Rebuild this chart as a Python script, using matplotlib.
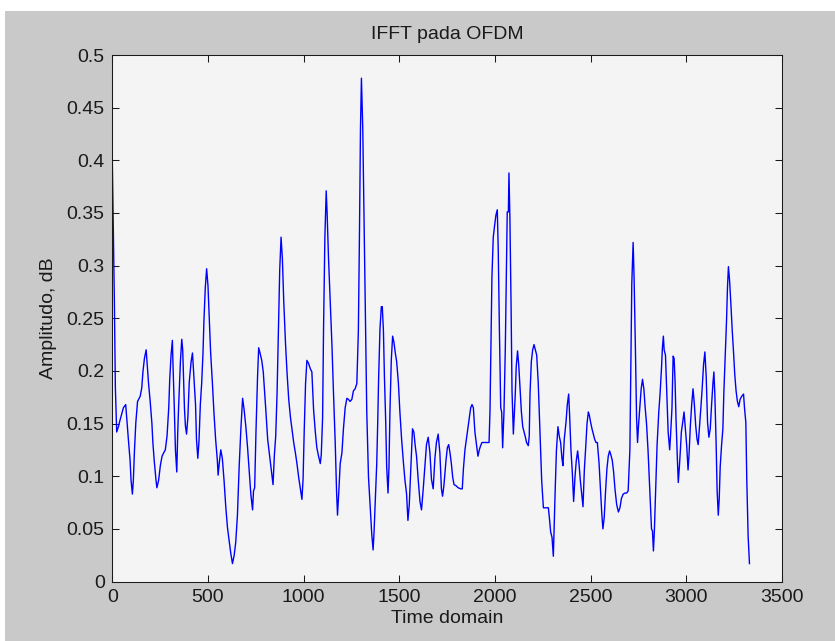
import matplotlib
matplotlib.use("Agg")
import matplotlib.pyplot as plt
from matplotlib.patches import Rectangle

time_points = [
    0, 3.5, 10.5, 16, 23, 32, 40, 58, 70, 75, 84, 93, 98, 105, 110, 116, 123, 132, 146, 154,
    160, 168, 177, 181, 189, 198, 207, 212, 219, 228, 233, 242, 251, 260, 268, 277, 286, 295, 300, 307,
    314, 317, 324, 330, 337, 342, 347, 356, 363, 368, 377, 382, 388, 395, 402, 412, 419, 426, 435, 440,
    447, 453, 460, 467, 474, 479, 486, 493, 500, 507, 514, 523, 531, 540, 549, 553, 560, 567, 575, 584,
    593, 602, 610, 619, 628, 637, 645, 654, 663, 672, 681, 689, 698, 707, 716, 724, 733, 738, 744, 751,
    759, 765, 772, 781, 789, 795, 803, 812,
    840, 847, 854, 861, 868, 875, 882, 889, 896, 905, 913, 922, 931, 939, 948, 957, 965, 974, 983, 991,
    997, 1003, 1010, 1017, 1026, 1035, 1043, 1052, 1061, 1069, 1078, 1087, 1092, 1099, 1104, 1111, 1118, 1123, 1130, 1139,
    1148, 1156, 1165, 1172, 1177, 1184, 1191, 1200, 1208, 1217, 1226, 1234, 1243, 1252, 1260, 1269, 1278, 1286, 1292, 1297,
    1302, 1309, 1316, 1323, 1330, 1339, 1347, 1356, 1363, 1368, 1375, 1382, 1387, 1392, 1399, 1406, 1411, 1417, 1422, 1429,
    1434, 1441, 1446, 1451, 1458, 1465, 1472, 1479, 1486, 1495, 1503, 1512, 1521, 1529, 1538, 1545, 1552, 1559, 1564, 1569,
    1576, 1583, 1590, 1599, 1608, 1616, 1625, 1634, 1642, 1651, 1660, 1668, 1677, 1686, 1694, 1703, 1712, 1720, 1726, 1733,
    1744, 1751, 1758, 1765, 1772, 1779, 1786, 1796, 1808, 1821, 1829, 1835, 1843, 1852, 1859, 1866, 1873, 1880, 1887, 1895,
    1904, 1911, 1918, 1925, 1932, 1939, 1956, 1969, 1974, 1979, 1984, 1991, 1998, 2005, 2012, 2017, 2023, 2030, 2035, 2040,
    2047, 2054, 2059, 2064, 2070, 2073, 2078, 2084, 2089, 2096, 2101, 2106, 2111, 2118, 2124, 2131, 2138, 2145, 2152, 2159,
    2165, 2174, 2179, 2183, 2190, 2197, 2204, 2211, 2218, 2226, 2235, 2244, 2253, 2261, 2270, 2279, 2284, 2291, 2298, 2305,
    2314, 2321, 2329, 2336, 2343, 2350, 2355, 2362, 2371, 2378, 2385, 2390, 2397, 2404, 2411, 2418, 2425, 2432, 2439, 2446,
    2453, 2460, 2467, 2474, 2481, 2488, 2493, 2500, 2507, 2514, 2521, 2528, 2535, 2544, 2551, 2558, 2564, 2571, 2578, 2585,
    2592, 2599, 2606, 2613, 2620, 2627, 2636, 2645,
    2653, 2661, 2670, 2679, 2688, 2696, 2705, 2710, 2715, 2722, 2727, 2734, 2740, 2745, 2750, 2757, 2764, 2771, 2778, 2785,
    2792, 2800, 2809, 2818, 2823, 2828, 2833, 2840, 2847, 2856, 2863, 2870, 2875, 2880, 2884, 2891, 2898, 2905, 2913, 2918,
    2925, 2931, 2936, 2941, 2946, 2953, 2958, 2964, 2969, 2974, 2981, 2988, 2995, 3002, 3009, 3014, 3021, 3028, 3035, 3042,
    3049, 3056, 3062, 3069, 3076, 3083, 3090, 3097, 3104, 3111, 3118, 3125, 3132, 3139, 3144, 3149, 3156, 3161, 3167, 3172,
    3177, 3184, 3191, 3196, 3203, 3210, 3215, 3220, 3226, 3233, 3240, 3247, 3253, 3260, 3267, 3274, 3281, 3290, 3299, 3304,
    3311, 3316, 3323, 3330,
]

amplitude = [
    0.401, 0.358, 0.270, 0.184, 0.142, 0.147, 0.153, 0.165, 0.168, 0.156, 0.135, 0.115, 0.096, 0.083, 0.096, 0.125, 0.151, 0.171, 0.176, 0.184,
    0.199, 0.212, 0.220, 0.210, 0.189, 0.171, 0.150, 0.132, 0.115, 0.097, 0.089, 0.096, 0.110, 0.119, 0.122, 0.125, 0.138, 0.165, 0.191, 0.215,
    0.229, 0.207, 0.165, 0.125, 0.104, 0.142, 0.168, 0.209, 0.230, 0.220, 0.165, 0.148, 0.140, 0.156, 0.189, 0.209, 0.217, 0.196, 0.168, 0.135,
    0.117, 0.133, 0.168, 0.188, 0.217, 0.248, 0.279, 0.297, 0.281, 0.250, 0.217, 0.189, 0.161, 0.135, 0.115, 0.101, 0.114, 0.125, 0.117, 0.096,
    0.071, 0.051, 0.040, 0.027, 0.017, 0.025, 0.037, 0.063, 0.109, 0.145, 0.174, 0.163, 0.147, 0.127, 0.104, 0.083, 0.068, 0.086, 0.089, 0.143,
    0.194, 0.222, 0.217, 0.210, 0.199, 0.183, 0.161, 0.135,
    0.092, 0.120, 0.138, 0.178, 0.237, 0.296, 0.327, 0.306, 0.266, 0.227, 0.199, 0.173, 0.156, 0.145, 0.132, 0.122, 0.112, 0.099, 0.088, 0.078,
    0.097, 0.143, 0.188, 0.210, 0.207, 0.202, 0.199, 0.163, 0.142, 0.127, 0.119, 0.112, 0.120, 0.155, 0.240, 0.327, 0.371, 0.348, 0.307, 0.265,
    0.224, 0.179, 0.132, 0.086, 0.063, 0.086, 0.112, 0.122, 0.145, 0.165, 0.174, 0.173, 0.171, 0.173, 0.181, 0.183, 0.188, 0.238, 0.335, 0.430,
    0.478, 0.430, 0.340, 0.250, 0.160, 0.099, 0.073, 0.045, 0.030, 0.047, 0.079, 0.112, 0.150, 0.194, 0.240, 0.261, 0.261, 0.238, 0.196, 0.151,
    0.109, 0.084, 0.109, 0.161, 0.210, 0.233, 0.227, 0.217, 0.209, 0.189, 0.161, 0.135, 0.114, 0.097, 0.083, 0.058, 0.073, 0.102, 0.124, 0.145,
    0.142, 0.129, 0.119, 0.096, 0.076, 0.068, 0.088, 0.110, 0.130, 0.137, 0.122, 0.097, 0.088, 0.117, 0.132, 0.140, 0.122, 0.088, 0.081, 0.091,
    0.115, 0.127, 0.130, 0.122, 0.112, 0.099, 0.092, 0.091, 0.089, 0.088, 0.088, 0.107, 0.125, 0.137, 0.147, 0.156, 0.165, 0.168, 0.165, 0.142,
    0.129, 0.119, 0.125, 0.129, 0.132, 0.132, 0.132, 0.132, 0.163, 0.227, 0.289, 0.327, 0.338, 0.348, 0.353, 0.315, 0.240, 0.165, 0.161, 0.127,
    0.161, 0.222, 0.289, 0.351, 0.351, 0.388, 0.345, 0.263, 0.181, 0.140, 0.158, 0.178, 0.204, 0.219, 0.206, 0.183, 0.161, 0.147, 0.142, 0.137,
    0.132, 0.129, 0.138, 0.178, 0.209, 0.220, 0.225, 0.220, 0.215, 0.189, 0.142, 0.096, 0.070, 0.070, 0.070, 0.070, 0.061, 0.047, 0.042, 0.024,
    0.083, 0.124, 0.147, 0.138, 0.132, 0.117, 0.110, 0.135, 0.151, 0.168, 0.178, 0.158, 0.125, 0.104, 0.076, 0.099, 0.115, 0.124, 0.112, 0.096,
    0.083, 0.071, 0.106, 0.127, 0.150, 0.161, 0.158, 0.151, 0.145, 0.140, 0.135, 0.132, 0.132, 0.112, 0.089, 0.065, 0.050, 0.061, 0.086, 0.107,
    0.119, 0.124, 0.120, 0.115, 0.104, 0.088, 0.073, 0.066,
    0.070, 0.079, 0.083, 0.084, 0.084, 0.086, 0.125, 0.204, 0.283, 0.322, 0.288, 0.220, 0.155, 0.132, 0.148, 0.165, 0.183, 0.192, 0.183, 0.165,
    0.150, 0.124, 0.086, 0.050, 0.048, 0.029, 0.048, 0.089, 0.129, 0.161, 0.179, 0.202, 0.222, 0.233, 0.220, 0.215, 0.178, 0.142, 0.125, 0.140,
    0.165, 0.214, 0.212, 0.191, 0.155, 0.117, 0.094, 0.110, 0.125, 0.142, 0.151, 0.161, 0.145, 0.129, 0.106, 0.120, 0.148, 0.168, 0.183, 0.168,
    0.148, 0.135, 0.130, 0.147, 0.165, 0.184, 0.206, 0.218, 0.194, 0.151, 0.137, 0.145, 0.168, 0.188, 0.199, 0.178, 0.129, 0.086, 0.063, 0.079,
    0.109, 0.129, 0.145, 0.179, 0.212, 0.247, 0.279, 0.299, 0.286, 0.263, 0.238, 0.217, 0.197, 0.181, 0.171, 0.166, 0.173, 0.176, 0.178, 0.165,
    0.151, 0.096, 0.043, 0.017,
]

x_ticks = [0, 500, 1000, 1500, 2000, 2500, 3000, 3500]
y_ticks = [0, 0.05, 0.1, 0.15, 0.2, 0.25, 0.3, 0.35, 0.4, 0.45, 0.5]
y_tick_labels = ["0", "0.05", "0.1", "0.15", "0.2", "0.25", "0.3", "0.35", "0.4", "0.45", "0.5"]

plt.rcParams['font.family'] = ['Liberation Sans', 'DejaVu Sans']

W, H = 835, 641
fig = plt.figure(figsize=(W / 100, H / 100), dpi=100, facecolor='white')
# gray figure panel (MATLAB-style background)
fig.patches.append(Rectangle((5 / W, 0), 1, 1 - 11 / H, transform=fig.transFigure,
                             facecolor='#c9c9c9', edgecolor='none', zorder=-10))

ax = fig.add_axes([112.3 / W, 1 - 581.5 / H, (782 - 112.3) / W, (581.5 - 55) / H])
ax.set_facecolor('#f4f4f4')
ax.plot(time_points, amplitude, color='#0000ff', linewidth=1.0)

ax.set_xlim(0, 3500)
ax.set_ylim(0, 0.5)
ax.set_xticks(x_ticks)
ax.set_xticklabels([str(t) for t in x_ticks])
ax.set_yticks(y_ticks)
ax.set_yticklabels(y_tick_labels)
ax.tick_params(direction='in', length=5, width=0.75, top=True, right=True,
               labelsize=14, colors='#1a1a1a', pad=5.5)
for s in ax.spines.values():
    s.set_linewidth(0.75)
    s.set_color('#1a1a1a')

ax.set_title('IFFT pada OFDM', fontsize=14, pad=11.3, color='#1a1a1a')
ax.set_xlabel('Time domain', fontsize=14, labelpad=2.5, color='#1a1a1a')
ax.set_ylabel('Amplitudo, dB', fontsize=14, labelpad=7, color='#1a1a1a')

fig.savefig('out.png', dpi=100, facecolor=fig.get_facecolor())
